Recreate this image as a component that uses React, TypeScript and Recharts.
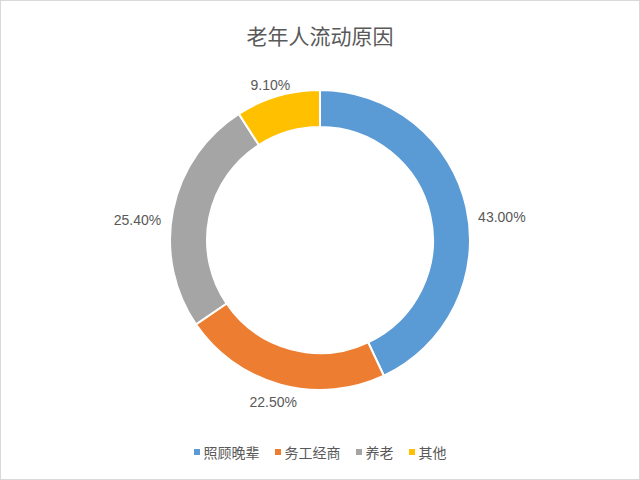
import * as React from 'react';
import { Cell, Legend, Pie, PieChart } from 'recharts';

// 老年人流动原因 — doughnut, shares in %
const CATEGORIES = ['照顾晚辈', '务工经商', '养老', '其他'];
const SHARES = [43.0, 22.5, 25.4, 9.1];
const COLORS = ['#5B9BD5', '#ED7D31', '#A5A5A5', '#FFC000'];

const TEXT_COLOR = '#595959';
const CJK_FONT = '"Liberation Sans", "Noto Sans CJK SC", sans-serif';
const RAD = Math.PI / 180;

const data = CATEGORIES.map((name, i) => ({ name, value: SHARES[i] }));

function SliceLabel(props: any) {
  const { cx, cy, midAngle, outerRadius, value } = props;
  const r = outerRadius + 12;
  const cos = Math.cos(-midAngle * RAD);
  const sin = Math.sin(-midAngle * RAD);
  let x = cx + r * cos;
  let y = cy + r * sin;
  let anchor: 'start' | 'end' | 'middle' = 'middle';
  if (cos > 0.5) anchor = 'start';
  else if (cos < -0.5) anchor = 'end';
  // side labels sit a little below the mid-angle point
  if (anchor !== 'middle') y += 12;
  else {
    y += sin > 0 ? 6 : 0;
    x -= 4;
  }
  return (
    <text
      x={x}
      y={y}
      fill={TEXT_COLOR}
      fontSize={14}
      fontFamily={CJK_FONT}
      textAnchor={anchor}
      dominantBaseline="central"
    >
      {value.toFixed(2)}%
    </text>
  );
}

function LegendContent({ payload }: any) {
  // keep the category order of the data (recharts hands it back reversed)
  const items = [...(payload ?? [])].sort(
    (a: any, b: any) => CATEGORIES.indexOf(a.value) - CATEGORIES.indexOf(b.value),
  );
  return (
    <div
      style={{
        display: 'flex',
        justifyContent: 'center',
        gap: 15,
        fontFamily: CJK_FONT,
        fontSize: 14,
        color: TEXT_COLOR,
      }}
    >
      {items.map((p: any) => (
        <span key={p.value} style={{ display: 'flex', alignItems: 'center', gap: 4 }}>
          <span style={{ width: 6, height: 6, background: p.color, display: 'inline-block' }} />
          {p.value}
        </span>
      ))}
    </div>
  );
}

export default function App() {
  return (
    <div
      style={{
        position: 'absolute',
        left: 0,
        top: 0,
        width: 638,
        height: 478,
        border: '1px solid #D9D9D9',
        background: '#fff',
      }}
    >
      <div
        style={{
          position: 'absolute',
          top: 19,
          width: '100%',
          textAlign: 'center',
          fontFamily: CJK_FONT,
          fontSize: 21,
          color: TEXT_COLOR,
        }}
      >
        老年人流动原因
      </div>
      <PieChart width={638} height={478} margin={{ top: 0, right: 0, bottom: 0, left: 0 }}>
        <Pie
          data={data}
          dataKey="value"
          nameKey="name"
          cx={319}
          cy={239}
          innerRadius={113}
          outerRadius={150}
          startAngle={90}
          endAngle={-270}
          stroke="#fff"
          strokeWidth={2}
          label={SliceLabel}
          labelLine={false}
          isAnimationActive={false}
        >
          {data.map((d, i) => (
            <Cell key={d.name} fill={COLORS[i]} />
          ))}
        </Pie>
        <Legend content={<LegendContent />} wrapperStyle={{ top: 441, left: 0, width: 638 }} />
      </PieChart>
    </div>
  );
}
